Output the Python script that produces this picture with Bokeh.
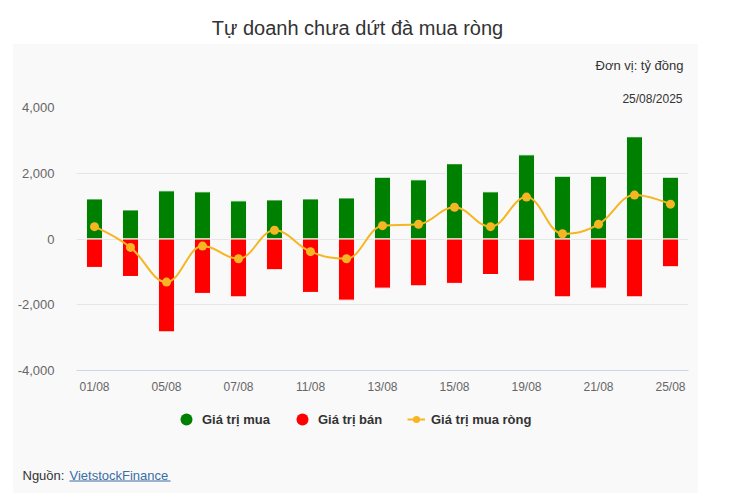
from bokeh.plotting import figure
from bokeh.layouts import column, row
from bokeh.models import (ColumnDataSource, Range1d, FixedTicker, NumeralTickFormatter,
                          Label, BoxAnnotation, Legend, LegendItem, Title, Spacer)
from bokeh.embed import file_html
from bokeh.resources import INLINE

# ---------------- data ----------------
dates = ["01/08", "04/08", "05/08", "06/08", "07/08", "08/08", "11/08", "12/08", "13/08",
         "14/08", "15/08", "18/08", "19/08", "20/08", "21/08", "22/08", "25/08"]
buy = [1220, 885, 1465, 1435, 1160, 1190, 1220, 1250, 1880, 1800, 2290, 1435, 2560, 1910, 1910, 3110, 1880]
sell = [-865, -1140, -2825, -1655, -1760, -935, -1625, -1860, -1495, -1425, -1350, -1080, -1280, -1760,
        -1495, -1760, -845]
net = [375, -255, -1310, -215, -600, 265, -385, -600, 405, 445, 965, 375, 1275, 160, 445, 1335, 1060]
y_ticks = [-4000, -2000, 0, 2000, 4000]
shown_dates = ["01/08", "05/08", "07/08", "11/08", "13/08", "15/08", "19/08", "21/08", "25/08"]

title_text = "Tự doanh chưa dứt đà mua ròng"
unit_text = "Đơn vị: tỷ đồng"
date_text = "25/08/2025"
legend_labels = ["Giá trị mua", "Giá trị bán", "Giá trị mua ròng"]
source_label = "Nguồn:"
source_link = "VietstockFinance"

# ---------------- styling ----------------
FONT = "Liberation Sans"
GREEN = "#008000"
RED = "#ff0000"
ORANGE = "#f6b624"
PANEL = "#f9f9f9"
LINK = "#3a6ea5"


def blank_fig(w, h, bg, yr=(0, 1)):
    f = figure(width=w, height=h, output_backend="svg", toolbar_location=None,
               x_range=Range1d(0, 1), y_range=Range1d(*yr),
               x_axis_location=None, y_axis_location=None,
               min_border=0, min_border_left=0, min_border_right=0,
               min_border_top=0, min_border_bottom=0)
    f.grid.visible = False
    f.outline_line_color = None
    f.background_fill_color = bg
    f.border_fill_color = bg
    return f


# ---------- title strip (white) ----------
title_fig = blank_fig(730, 44, "white")
title_fig.add_layout(Label(x=357, y=44 - 27, x_units="screen", y_units="screen", text=title_text,
                           text_align="center", text_baseline="middle", text_font=FONT,
                           text_font_size="20px", text_color="#333333"))

# ---------- header inside gray panel ----------
header = blank_fig(685, 36, PANEL)
header.add_layout(Label(x=683 - 13, y=80 - 64.5, x_units="screen", y_units="screen", text=unit_text,
                        text_align="right", text_baseline="middle", text_font=FONT,
                        text_font_size="13px", text_color="#333333"))

# ---------- main chart ----------
xs = list(range(len(dates)))
p = figure(width=685, height=320, output_backend="svg", toolbar_location=None,
           x_range=Range1d(-0.5, len(dates) - 0.5), y_range=Range1d(-4000, 4000),
           min_border_left=63, min_border_right=10, min_border_top=27, min_border_bottom=30)
p.border_fill_color = PANEL
p.background_fill_color = PANEL
p.outline_line_color = None

p.add_layout(Title(text=date_text, align="right", offset=6, standoff=4, text_font=FONT,
                   text_font_size="12px", text_font_style="normal", text_color="#333333"), "above")

src = ColumnDataSource(dict(x=xs, buy=buy, sell=sell, net=net))
p.vbar(x="x", top="buy", bottom=0, width=0.45, source=src, fill_color=GREEN, line_color="white", line_width=1)
p.vbar(x="x", top=0, bottom="sell", width=0.45, source=src, fill_color=RED, line_color="white", line_width=1)


# Highcharts-like spline through net values (bezier control points from neighbours)
def spline_segments(xv, yv, smoothing=1.5):
    n = len(xv)
    lc = [(xv[i], yv[i]) for i in range(n)]
    rc = [(xv[i], yv[i]) for i in range(n)]
    denom = smoothing + 1
    for i in range(1, n - 1):
        px, py = xv[i], yv[i]
        lx, ly = xv[i - 1], yv[i - 1]
        nx, ny = xv[i + 1], yv[i + 1]
        lcx = (smoothing * px + lx) / denom
        lcy = (smoothing * py + ly) / denom
        rcx = (smoothing * px + nx) / denom
        rcy = (smoothing * py + ny) / denom
        if rcx != lcx:
            corr = ((rcy - lcy) * (rcx - px)) / (rcx - lcx) + py - rcy
            lcy += corr
            rcy += corr
        if lcy > ly and lcy > py:
            lcy = max(ly, py)
            rcy = 2 * py - lcy
        elif lcy < ly and lcy < py:
            lcy = min(ly, py)
            rcy = 2 * py - lcy
        if rcy > ny and rcy > py:
            rcy = max(ny, py)
            lcy = 2 * py - rcy
        elif rcy < ny and rcy < py:
            rcy = min(ny, py)
            lcy = 2 * py - rcy
        lc[i] = (lcx, lcy)
        rc[i] = (rcx, rcy)
    seg = dict(x0=[], y0=[], x1=[], y1=[], cx0=[], cy0=[], cx1=[], cy1=[])
    for i in range(1, n):
        seg["x0"].append(xv[i - 1]); seg["y0"].append(yv[i - 1])
        seg["x1"].append(xv[i]); seg["y1"].append(yv[i])
        seg["cx0"].append(rc[i - 1][0]); seg["cy0"].append(rc[i - 1][1])
        seg["cx1"].append(lc[i][0]); seg["cy1"].append(lc[i][1])
    return seg


bz = ColumnDataSource(spline_segments(xs, net))
p.bezier(x0="x0", y0="y0", x1="x1", y1="y1", cx0="cx0", cy0="cy0", cx1="cx1", cy1="cy1",
         source=bz, line_color=ORANGE, line_width=2)
p.scatter(x="x", y="net", source=src, size=9, fill_color=ORANGE, line_color=None)

p.xgrid.visible = False
p.ygrid.grid_line_color = "#e6e6e6"
p.ygrid.ticker = FixedTicker(ticks=y_ticks)

p.yaxis.ticker = FixedTicker(ticks=y_ticks)
p.yaxis.formatter = NumeralTickFormatter(format="0,0")
p.yaxis.axis_line_color = None
p.yaxis.major_tick_line_color = None
p.yaxis.minor_tick_line_color = None
p.yaxis.major_label_standoff = 16
p.yaxis.major_label_text_font = FONT
p.yaxis.major_label_text_font_size = "13px"
p.yaxis.major_label_text_color = "#666666"

shown_idx = [dates.index(d) for d in shown_dates]
p.xaxis.ticker = FixedTicker(ticks=shown_idx)
p.xaxis.major_label_overrides = {i: dates[i] for i in shown_idx}
p.xaxis.axis_line_color = "#ccd6eb"
p.xaxis.major_tick_line_color = None
p.xaxis.minor_tick_line_color = None
p.xaxis.major_label_standoff = 3
p.xaxis.major_label_text_font = FONT
p.xaxis.major_label_text_font_size = "12px"
p.xaxis.major_label_text_color = "#666666"

# ---------- footer: legend + source ----------
# legend swatches use the real series, kept out of view (y range far above the data)
footer = blank_fig(685, 93, PANEL, yr=(10000, 10001))
fsrc = ColumnDataSource(dict(x=xs, buy=buy, sell=sell, net=net))
g_leg = footer.scatter(x="x", y="buy", source=fsrc, size=10, fill_color=GREEN, line_color=None)
r_leg = footer.scatter(x="x", y="sell", source=fsrc, size=10, fill_color=RED, line_color=None)
o_line = footer.line(x="x", y="net", source=fsrc, line_color=ORANGE, line_width=2)
o_dot = footer.scatter(x="x", y="net", source=fsrc, size=8, fill_color=ORANGE, line_color=None)

leg_style = dict(orientation="horizontal", background_fill_alpha=0, border_line_color=None,
                 padding=0, margin=0, label_text_font=FONT, label_text_font_size="13px",
                 label_text_font_style="bold", label_text_color="#333333")
leg1 = Legend(items=[LegendItem(label=legend_labels[0], renderers=[g_leg]),
                     LegendItem(label=legend_labels[1], renderers=[r_leg])],
              location=(171 - 13, 493 - 434), glyph_width=30, glyph_height=30,
              label_standoff=1, spacing=17, **leg_style)
leg2 = Legend(items=[LegendItem(label=legend_labels[2], renderers=[o_line, o_dot])],
              location=(407 - 13, 493 - 429), glyph_width=18, glyph_height=20,
              label_standoff=6, **leg_style)
footer.add_layout(leg1)
footer.add_layout(leg2)

footer.add_layout(Label(x=22 - 13, y=493 - 474.5, x_units="screen", y_units="screen", text=source_label,
                        text_align="left", text_baseline="middle", text_font=FONT,
                        text_font_size="13px", text_color="#333333"))
footer.add_layout(Label(x=69 - 13, y=493 - 474.5, x_units="screen", y_units="screen", text=source_link,
                        text_align="left", text_baseline="middle", text_font=FONT,
                        text_font_size="13px", text_color=LINK))
footer.add_layout(BoxAnnotation(left=69 - 13, right=170 - 13, top=493 - 480, bottom=493 - 481,
                                left_units="screen", right_units="screen", top_units="screen",
                                bottom_units="screen", fill_color=LINK, fill_alpha=1.0,
                                line_color=None))

inner = column(row(header, styles={"background-color": PANEL}),
               row(p, styles={"background-color": PANEL}),
               row(footer, styles={"background-color": PANEL}),
               spacing=0, styles={"background-color": PANEL})

layout = column(
    title_fig,
    row(Spacer(width=13, height=449), inner, Spacer(width=32, height=449), spacing=0),
    Spacer(width=730, height=9),
    spacing=0,
)

open("out.html", "w").write(file_html(layout, INLINE))
